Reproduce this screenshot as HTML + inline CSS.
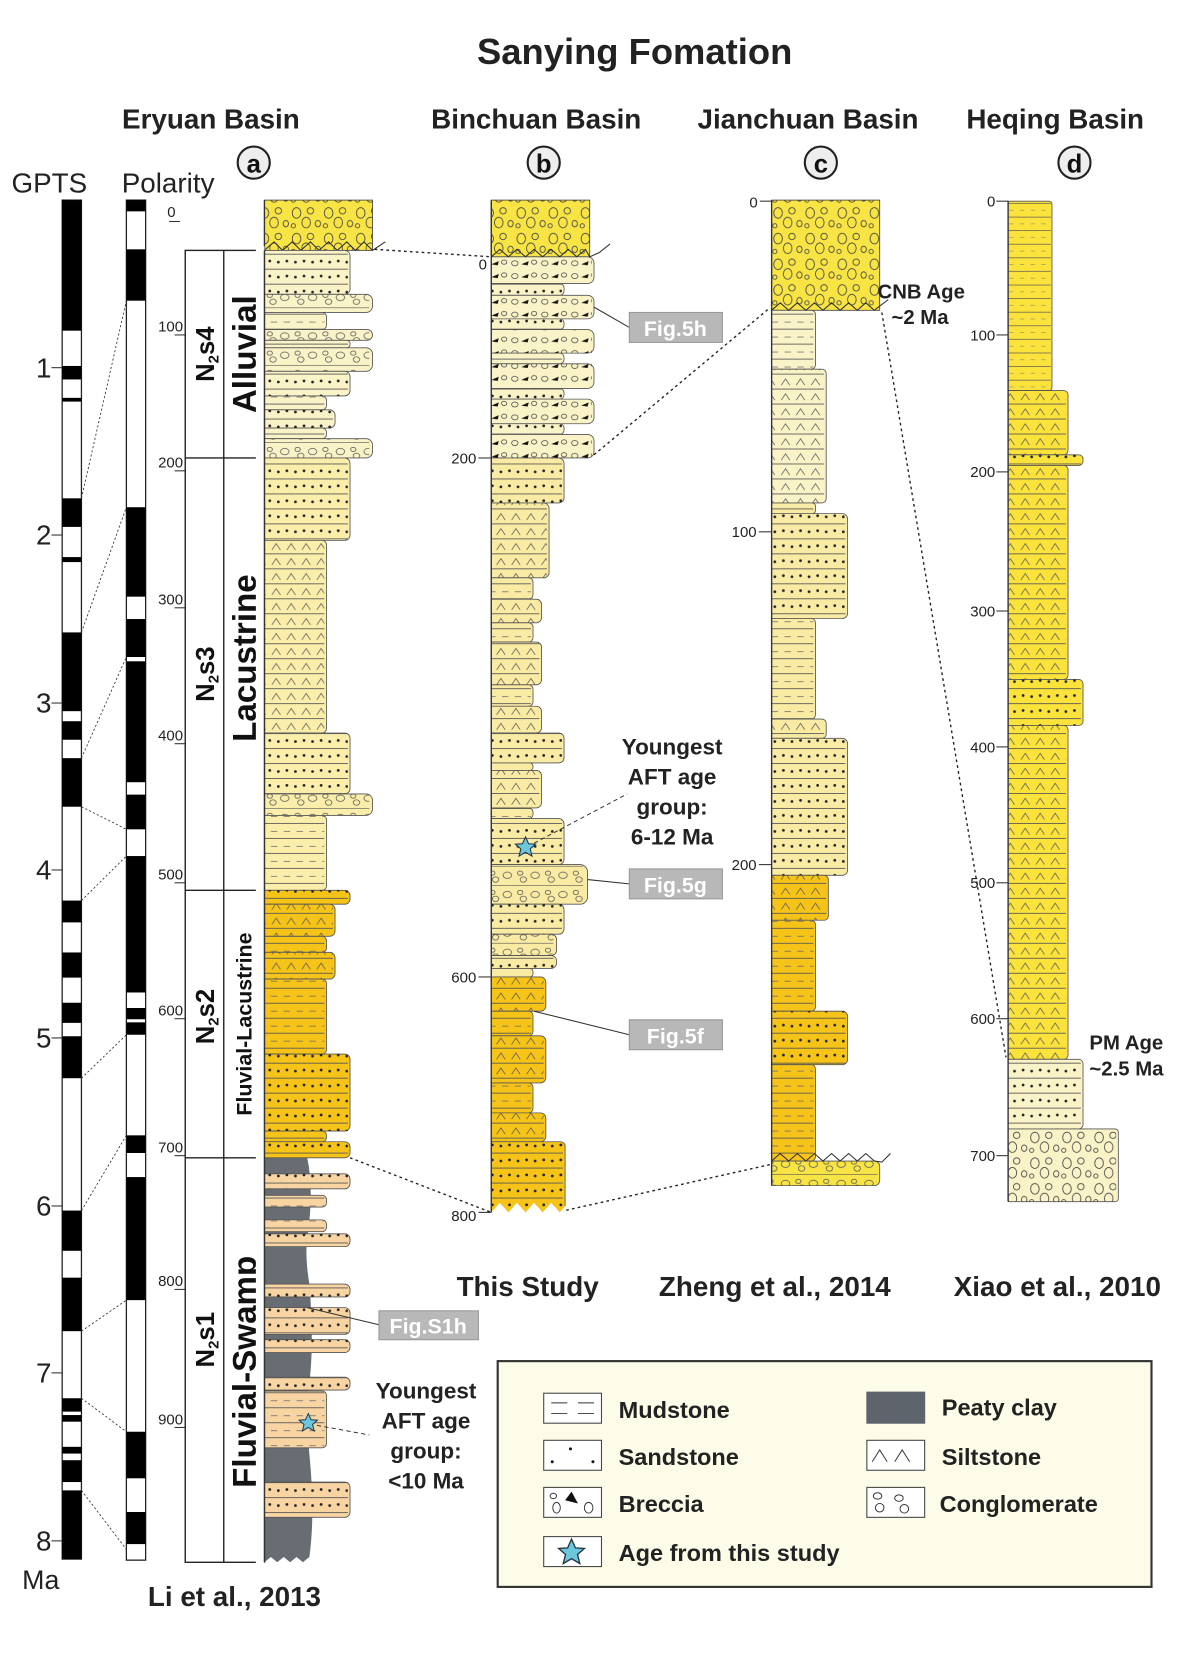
<!DOCTYPE html>
<html><head><meta charset="utf-8"><style>html,body{margin:0;padding:0;background:#fff}svg{display:block}text{font-family:"Liberation Sans",sans-serif}</style></head><body>
<svg width="1188" height="1680" viewBox="0 0 1110 1570" xmlns="http://www.w3.org/2000/svg">
<defs>
<pattern id="sa" patternUnits="userSpaceOnUse" width="16" height="14"><circle cx="4" cy="7" r="1.3" fill="#222"/><circle cx="12" cy="6" r="1.3" fill="#222"/><line x1="0" y1="13.6" x2="16" y2="13.6" stroke="#555" stroke-width=".8"/></pattern>
<pattern id="si" patternUnits="userSpaceOnUse" width="14" height="14"><path d="M2 10 L6 4 L10 10" stroke="#555" stroke-width=".7" fill="none"/><line x1="0" y1="13.6" x2="14" y2="13.6" stroke="#555" stroke-width=".8"/></pattern>
<pattern id="mu" patternUnits="userSpaceOnUse" width="12" height="14"><line x1="1" y1="7" x2="7" y2="7" stroke="#666" stroke-width=".7"/><line x1="0" y1="13.6" x2="12" y2="13.6" stroke="#555" stroke-width=".8"/></pattern>
<pattern id="co" patternUnits="userSpaceOnUse" width="26" height="18"><ellipse cx="6" cy="8" rx="4" ry="3" fill="none" stroke="#555" stroke-width=".7"/><ellipse cx="18" cy="6" rx="2.5" ry="2" fill="none" stroke="#555" stroke-width=".7"/><ellipse cx="21" cy="12" rx="3" ry="2.5" fill="none" stroke="#555" stroke-width=".7"/><line x1="0" y1="17.6" x2="26" y2="17.6" stroke="#555" stroke-width=".6"/></pattern>
<pattern id="br" patternUnits="userSpaceOnUse" width="28" height="12"><ellipse cx="5" cy="6" rx="3" ry="2.3" fill="none" stroke="#444" stroke-width=".7"/><path d="M11 7 L18 4 L17 8 Z" fill="#111"/><ellipse cx="23" cy="5" rx="2.5" ry="2" fill="none" stroke="#444" stroke-width=".7"/></pattern>
<pattern id="bc" patternUnits="userSpaceOnUse" width="30" height="24"><ellipse cx="7" cy="7" rx="4" ry="5" fill="none" stroke="#444" stroke-width=".8"/><ellipse cx="20" cy="5" rx="3" ry="3" fill="none" stroke="#444" stroke-width=".8"/><ellipse cx="16" cy="16" rx="4" ry="5" fill="none" stroke="#444" stroke-width=".8"/><ellipse cx="27" cy="17" rx="2.5" ry="3" fill="none" stroke="#444" stroke-width=".8"/><ellipse cx="4" cy="19" rx="2" ry="2" fill="none" stroke="#444" stroke-width=".8"/></pattern>
<pattern id="rl" patternUnits="userSpaceOnUse" width="10" height="12.7"><line x1="0" y1="12.4" x2="10" y2="12.4" stroke="#555" stroke-width=".7"/><line x1="3" y1="6" x2="7" y2="6" stroke="#777" stroke-width=".5"/></pattern>
<symbol id="star" viewBox="-10 -10 20 20"><path d="M0,-9 L2.6,-3.2 L8.6,-2.8 L4,1.2 L5.5,7.3 L0,4 L-5.5,7.3 L-4,1.2 L-8.6,-2.8 L-2.6,-3.2 Z" fill="#6cc6dc" stroke="#234" stroke-width=".9"/></symbol>
</defs>

<!-- Titles -->
<text x="593" y="60" font-size="34" font-weight="bold" text-anchor="middle" fill="#222">Sanying Fomation</text>
<g font-size="26" font-weight="bold" text-anchor="middle" fill="#222">
<text x="197" y="120">Eryuan Basin</text><text x="501" y="120">Binchuan Basin</text><text x="755" y="120">Jianchuan Basin</text><text x="986" y="120">Heqing Basin</text>
</g>
<g fill="#eee" stroke="#222" stroke-width="2"><circle cx="237" cy="152" r="15"/><circle cx="508" cy="152" r="15"/><circle cx="767" cy="152" r="15"/><circle cx="1004" cy="152" r="15"/></g>
<g font-size="24" font-weight="bold" text-anchor="middle" fill="#111"><text x="237" y="161">a</text><text x="508" y="161">b</text><text x="767" y="161">c</text><text x="1004" y="161">d</text></g>
<text x="46" y="180" font-size="26" text-anchor="middle" fill="#222">GPTS</text>
<text x="157" y="180" font-size="26" text-anchor="middle" fill="#222">Polarity</text>

<!-- GPTS -->
<rect x="58" y="187" width="18" height="1270" fill="#fff" stroke="#222" stroke-width="1.2"/>
<g fill="#000">
<rect x="58" y="187" width="18" height="122"/><rect x="58" y="342" width="18" height="12.6"/><rect x="58" y="371.8" width="18" height="3.5"/><rect x="58" y="465.7" width="18" height="26.7"/><rect x="58" y="520.6" width="18" height="4.7"/><rect x="58" y="591" width="18" height="73.6"/><rect x="58" y="674" width="18" height="17.3"/><rect x="58" y="708.5" width="18" height="45.4"/><rect x="58" y="841.6" width="18" height="20.4"/><rect x="58" y="890.1" width="18" height="23.5"/><rect x="58" y="937.1" width="18" height="18.8"/><rect x="58" y="968.4" width="18" height="39.2"/><rect x="58" y="1131.3" width="18" height="37.6"/><rect x="58" y="1194" width="18" height="50"/><rect x="58" y="1306.7" width="18" height="12.5"/><rect x="58" y="1322.4" width="18" height="6.2"/><rect x="58" y="1352.1" width="18" height="6.3"/><rect x="58" y="1364.6" width="18" height="20.4"/><rect x="58" y="1392.8" width="18" height="64.2"/>
</g>
<g stroke="#333" stroke-width="1"><line x1="48" y1="343.6" x2="58" y2="343.6"/><line x1="48" y1="500" x2="58" y2="500"/><line x1="48" y1="657" x2="58" y2="657"/><line x1="48" y1="813" x2="58" y2="813"/><line x1="48" y1="970" x2="58" y2="970"/><line x1="48" y1="1127" x2="58" y2="1127"/><line x1="48" y1="1283" x2="58" y2="1283"/><line x1="48" y1="1440" x2="58" y2="1440"/></g>
<g font-size="26" fill="#222" text-anchor="end"><text x="48" y="353">1</text><text x="48" y="509">2</text><text x="48" y="666">3</text><text x="48" y="822">4</text><text x="48" y="979">5</text><text x="48" y="1136">6</text><text x="48" y="1292">7</text><text x="48" y="1449">8</text></g>
<text x="38" y="1485" font-size="25" text-anchor="middle" fill="#222">Ma</text>

<!-- Polarity -->
<rect x="118" y="187" width="18" height="1271" fill="#fff" stroke="#222" stroke-width="1.2"/>
<g fill="#000">
<rect x="118" y="187" width="18" height="10.5"/><rect x="118" y="233" width="18" height="48"/><rect x="118" y="474" width="18" height="83.6"/><rect x="118" y="578.5" width="18" height="35.5"/><rect x="118" y="618" width="18" height="113"/><rect x="118" y="742.6" width="18" height="32.4"/><rect x="118" y="800" width="18" height="127.5"/><rect x="118" y="942" width="18" height="10.5"/><rect x="118" y="955.4" width="18" height="11.6"/><rect x="118" y="1061" width="18" height="16.5"/><rect x="118" y="1100" width="18" height="115"/><rect x="118" y="1338" width="18" height="43.5"/><rect x="118" y="1413" width="18" height="30"/>
</g>
<g stroke="#333" stroke-width=".8" stroke-dasharray="2,2"><line x1="76" y1="465.7" x2="118" y2="281"/><line x1="76" y1="591" x2="118" y2="474"/><line x1="76" y1="708.5" x2="118" y2="614"/><line x1="76" y1="753.9" x2="118" y2="775"/><line x1="76" y1="841.6" x2="118" y2="800"/><line x1="76" y1="1007.6" x2="118" y2="967"/><line x1="76" y1="1131.3" x2="118" y2="1061"/><line x1="76" y1="1244" x2="118" y2="1215"/><line x1="76" y1="1306.7" x2="118" y2="1338"/><line x1="76" y1="1392.8" x2="118" y2="1448"/></g>

<!-- depth ticks a -->
<g font-size="14" fill="#222" text-anchor="end"><text x="164" y="203">0</text><text x="171" y="310">100</text><text x="171" y="437">200</text><text x="171" y="565">300</text><text x="171" y="692">400</text><text x="171" y="822">500</text><text x="171" y="949">600</text><text x="171" y="1077">700</text><text x="171" y="1202">800</text><text x="171" y="1331">900</text></g>
<g stroke="#333" stroke-width="1"><line x1="158" y1="207" x2="168" y2="207"/><line x1="163" y1="313" x2="173" y2="313"/><line x1="163" y1="440" x2="173" y2="440"/><line x1="163" y1="568" x2="173" y2="568"/><line x1="163" y1="695" x2="173" y2="695"/><line x1="163" y1="825" x2="173" y2="825"/><line x1="163" y1="952" x2="173" y2="952"/><line x1="163" y1="1080" x2="173" y2="1080"/><line x1="163" y1="1205" x2="173" y2="1205"/><line x1="163" y1="1334" x2="173" y2="1334"/></g>

<!-- Stratigraphy boxes a -->
<rect x="173" y="234" width="74" height="1226" fill="#fff" stroke="#222" stroke-width="1.3"/>
<line x1="209" y1="234" x2="209" y2="1460" stroke="#222" stroke-width="1.3"/>
<g stroke="#222" stroke-width="1.3"><line x1="173" y1="428" x2="247" y2="428"/><line x1="173" y1="832" x2="247" y2="832"/><line x1="173" y1="1082" x2="247" y2="1082"/></g>
<g font-weight="bold" fill="#111" text-anchor="middle">
<text transform="translate(200,331) rotate(-90)" font-size="24">N<tspan font-size="14" dy="4">2</tspan><tspan dy="-4">s4</tspan></text>
<text transform="translate(239,331) rotate(-90)" font-size="31">Alluvial</text>
<text transform="translate(200,630) rotate(-90)" font-size="24">N<tspan font-size="14" dy="4">2</tspan><tspan dy="-4">s3</tspan></text>
<text transform="translate(239,615) rotate(-90)" font-size="31">Lacustrine</text>
<text transform="translate(200,950) rotate(-90)" font-size="24">N<tspan font-size="14" dy="4">2</tspan><tspan dy="-4">s2</tspan></text>
<text transform="translate(235,957) rotate(-90)" font-size="20">Fluvial-Lacustrine</text>
<text transform="translate(200,1252) rotate(-90)" font-size="24">N<tspan font-size="14" dy="4">2</tspan><tspan dy="-4">s1</tspan></text>
<text transform="translate(239,1282) rotate(-90)" font-size="31">Fluvial-Swamp</text>
</g>

<!-- Column a -->
<rect x="247" y="187" width="101" height="47" fill="#f8e444" stroke="#444" stroke-width=".8"/>
<rect x="247" y="187" width="101" height="47" fill="url(#bc)"/>
<polyline points="247,234 256,226 264,234 273,226 281,234 290,226 298,234 307,226 315,234 324,226 332,234 340,226 348,234 360,226" fill="none" stroke="#333" stroke-width="1"/>
<path d="M247 1082 L287 1082 Q293 1110 288 1150 Q284 1170 289 1200 Q294 1260 288 1300 Q286 1330 290 1370 Q294 1420 289 1455 L283 1460 L277 1455 L271 1460 L265 1455 L259 1460 L253 1455 L247 1460 Z" fill="#686d74"/>
<g stroke="#555" stroke-width=".8">
<rect x="240" y="234" width="87" height="41" rx="5" fill="#fbf3c8"/><rect x="240" y="275" width="108" height="17" rx="6" fill="#fbf3c8"/><rect x="240" y="292" width="65" height="16" rx="4" fill="#fbf3c8"/><rect x="240" y="308" width="108" height="10" rx="5" fill="#fbf3c8"/><rect x="240" y="318" width="87" height="7" rx="3" fill="#fbf3c8"/><rect x="240" y="325" width="108" height="22" rx="6" fill="#fbf3c8"/><rect x="240" y="347" width="87" height="23" rx="5" fill="#fbf3c8"/><rect x="240" y="370" width="65" height="13" rx="4" fill="#fbf3c8"/><rect x="240" y="383" width="73" height="17" rx="5" fill="#fbf3c8"/><rect x="240" y="400" width="65" height="10" rx="4" fill="#fbf3c8"/><rect x="240" y="410" width="108" height="18" rx="6" fill="#fbf3c8"/>
<rect x="240" y="428" width="87" height="77" rx="5" fill="#fbeeab"/><rect x="240" y="505" width="65" height="180" rx="4" fill="#fbeeab"/><rect x="240" y="685" width="87" height="57" rx="5" fill="#fbeeab"/><rect x="240" y="742" width="108" height="20" rx="6" fill="#fbeeab"/><rect x="240" y="762" width="65" height="70" rx="4" fill="#fbeeab"/>
<rect x="240" y="832" width="87" height="13" rx="5" fill="#f6c418"/><rect x="240" y="845" width="73" height="30" rx="5" fill="#f6c418"/><rect x="240" y="875" width="65" height="15" rx="4" fill="#f6c418"/><rect x="240" y="890" width="73" height="25" rx="5" fill="#f6c418"/><rect x="240" y="915" width="65" height="70" rx="4" fill="#f6c418"/><rect x="240" y="985" width="87" height="72" rx="5" fill="#f6c418"/><rect x="240" y="1057" width="65" height="10" rx="4" fill="#f6c418"/><rect x="240" y="1067" width="87" height="15" rx="5" fill="#f6c418"/>
<rect x="240" y="1097" width="87" height="14" rx="5" fill="#f7d4a2"/><rect x="240" y="1117" width="65" height="11" rx="4" fill="#f7d4a2"/><rect x="240" y="1140" width="65" height="11" rx="4" fill="#f7d4a2"/><rect x="240" y="1153" width="87" height="12" rx="5" fill="#f7d4a2"/><rect x="240" y="1200" width="87" height="12" rx="5" fill="#f7d4a2"/><rect x="240" y="1222" width="87" height="25" rx="5" fill="#f7d4a2"/><rect x="240" y="1252" width="87" height="12" rx="5" fill="#f7d4a2"/><rect x="240" y="1287" width="87" height="12" rx="5" fill="#f7d4a2"/><rect x="240" y="1300" width="65" height="53" rx="4" fill="#f7d4a2"/><rect x="240" y="1385" width="87" height="33" rx="5" fill="#f7d4a2"/>
</g>
<g>
<rect x="247" y="234" width="78" height="41" fill="url(#sa)"/><rect x="247" y="275" width="98" height="17" fill="url(#co)"/><rect x="247" y="292" width="56" height="16" fill="url(#mu)"/><rect x="247" y="308" width="98" height="10" fill="url(#co)"/><rect x="247" y="318" width="78" height="7" fill="url(#sa)"/><rect x="247" y="325" width="98" height="22" fill="url(#co)"/><rect x="247" y="347" width="78" height="23" fill="url(#sa)"/><rect x="247" y="370" width="56" height="13" fill="url(#mu)"/><rect x="247" y="383" width="64" height="17" fill="url(#sa)"/><rect x="247" y="400" width="56" height="10" fill="url(#mu)"/><rect x="247" y="410" width="98" height="18" fill="url(#co)"/>
<rect x="247" y="428" width="78" height="77" fill="url(#sa)"/><rect x="247" y="505" width="56" height="180" fill="url(#si)"/><rect x="247" y="685" width="78" height="57" fill="url(#sa)"/><rect x="247" y="742" width="98" height="20" fill="url(#co)"/><rect x="247" y="762" width="56" height="70" fill="url(#mu)"/>
<rect x="247" y="832" width="78" height="13" fill="url(#sa)"/><rect x="247" y="845" width="64" height="30" fill="url(#si)"/><rect x="247" y="875" width="56" height="15" fill="url(#mu)"/><rect x="247" y="890" width="64" height="25" fill="url(#si)"/><rect x="247" y="915" width="56" height="70" fill="url(#mu)"/><rect x="247" y="985" width="78" height="72" fill="url(#sa)"/><rect x="247" y="1057" width="56" height="10" fill="url(#mu)"/><rect x="247" y="1067" width="78" height="15" fill="url(#sa)"/>
<rect x="247" y="1097" width="78" height="14" fill="url(#sa)"/><rect x="247" y="1117" width="56" height="11" fill="url(#mu)"/><rect x="247" y="1140" width="56" height="11" fill="url(#mu)"/><rect x="247" y="1153" width="78" height="12" fill="url(#sa)"/><rect x="247" y="1200" width="78" height="12" fill="url(#sa)"/><rect x="247" y="1222" width="78" height="25" fill="url(#sa)"/><rect x="247" y="1252" width="78" height="12" fill="url(#sa)"/><rect x="247" y="1287" width="78" height="12" fill="url(#sa)"/><rect x="247" y="1300" width="56" height="53" fill="url(#mu)"/><rect x="247" y="1385" width="78" height="33" fill="url(#sa)"/>
</g>
<line x1="247" y1="187" x2="247" y2="1460" stroke="#333" stroke-width="1.3"/>
<rect x="239" y="230" width="8" height="1232" fill="#fff"/>
<line x1="247" y1="234" x2="247" y2="1460" stroke="#333" stroke-width="1.3"/>
<use href="#star" x="278" y="1320" width="20" height="20"/>
<line x1="296" y1="1332" x2="345" y2="1341" stroke="#333" stroke-width=".9" stroke-dasharray="4,3"/>
<g font-size="21" font-weight="bold" fill="#222" text-anchor="middle"><text x="398" y="1307">Youngest</text><text x="398" y="1335">AFT age</text><text x="398" y="1363">group:</text><text x="398" y="1391">&lt;10 Ma</text></g>
<line x1="287" y1="1222" x2="354" y2="1238" stroke="#333" stroke-width="1"/>
<rect x="354" y="1225" width="93" height="27" fill="#b8b8b8" stroke="#999"/>
<text x="400" y="1246" font-size="20" font-weight="bold" fill="#fff" text-anchor="middle">Fig.S1h</text>
<text x="219" y="1501" font-size="26" font-weight="bold" fill="#222" text-anchor="middle">Li et al., 2013</text>

<!-- Column b -->
<rect x="459" y="187" width="92" height="53" fill="#f8e444" stroke="#444" stroke-width=".8"/>
<rect x="459" y="187" width="92" height="53" fill="url(#bc)"/>
<g stroke="#555" stroke-width=".8">
<rect x="452" y="240" width="103" height="25" rx="6" fill="#fbf3c8"/><rect x="452" y="265" width="75" height="11" rx="4" fill="#fbf3c8"/><rect x="452" y="276" width="103" height="22" rx="6" fill="#fbf3c8"/><rect x="452" y="298" width="75" height="10" rx="4" fill="#fbf3c8"/><rect x="452" y="308" width="103" height="22" rx="6" fill="#fbf3c8"/><rect x="452" y="330" width="75" height="10" rx="4" fill="#fbf3c8"/><rect x="452" y="340" width="103" height="23" rx="6" fill="#fbf3c8"/><rect x="452" y="363" width="75" height="10" rx="4" fill="#fbf3c8"/><rect x="452" y="373" width="103" height="23" rx="6" fill="#fbf3c8"/><rect x="452" y="396" width="75" height="10" rx="4" fill="#fbf3c8"/><rect x="452" y="406" width="103" height="22" rx="6" fill="#fbf3c8"/>
<rect x="452" y="428" width="75" height="42" rx="5" fill="#faeba4"/><rect x="452" y="470" width="61" height="70" rx="5" fill="#faeba4"/><rect x="452" y="540" width="46" height="20" rx="4" fill="#faeba4"/><rect x="452" y="560" width="54" height="22" rx="5" fill="#faeba4"/><rect x="452" y="582" width="46" height="18" rx="4" fill="#faeba4"/><rect x="452" y="600" width="54" height="40" rx="5" fill="#faeba4"/><rect x="452" y="640" width="46" height="20" rx="4" fill="#faeba4"/><rect x="452" y="660" width="54" height="25" rx="5" fill="#faeba4"/><rect x="452" y="685" width="75" height="28" rx="5" fill="#faeba4"/><rect x="452" y="713" width="46" height="7" rx="3" fill="#faeba4"/><rect x="452" y="720" width="54" height="35" rx="5" fill="#faeba4"/><rect x="452" y="755" width="46" height="10" rx="4" fill="#faeba4"/><rect x="452" y="765" width="75" height="43" rx="5" fill="#faeba4"/><rect x="452" y="808" width="97" height="37" rx="7" fill="#faeba4"/><rect x="452" y="845" width="75" height="28" rx="5" fill="#faeba4"/><rect x="452" y="873" width="68" height="20" rx="5" fill="#faeba4"/><rect x="452" y="893" width="68" height="12" rx="5" fill="#faeba4"/><rect x="452" y="905" width="46" height="8" rx="3" fill="#faeba4"/>
<rect x="452" y="913" width="58" height="32" rx="5" fill="#f6c418"/><rect x="452" y="945" width="46" height="23" rx="4" fill="#f6c418"/><rect x="452" y="968" width="58" height="44" rx="5" fill="#f6c418"/><rect x="452" y="1012" width="46" height="28" rx="4" fill="#f6c418"/><rect x="452" y="1040" width="58" height="27" rx="5" fill="#f6c418"/><rect x="452" y="1067" width="76" height="66" rx="4" fill="#f6c418"/>
</g>
<g>
<rect x="459" y="240" width="94" height="25" fill="url(#br)"/><rect x="459" y="265" width="66" height="11" fill="url(#sa)"/><rect x="459" y="276" width="94" height="22" fill="url(#br)"/><rect x="459" y="298" width="66" height="10" fill="url(#sa)"/><rect x="459" y="308" width="94" height="22" fill="url(#br)"/><rect x="459" y="330" width="66" height="10" fill="url(#sa)"/><rect x="459" y="340" width="94" height="23" fill="url(#br)"/><rect x="459" y="363" width="66" height="10" fill="url(#sa)"/><rect x="459" y="373" width="94" height="23" fill="url(#br)"/><rect x="459" y="396" width="66" height="10" fill="url(#sa)"/><rect x="459" y="406" width="94" height="22" fill="url(#br)"/>
<rect x="459" y="428" width="66" height="42" fill="url(#sa)"/><rect x="459" y="470" width="52" height="70" fill="url(#si)"/><rect x="459" y="540" width="37" height="20" fill="url(#mu)"/><rect x="459" y="560" width="45" height="22" fill="url(#si)"/><rect x="459" y="582" width="37" height="18" fill="url(#mu)"/><rect x="459" y="600" width="45" height="40" fill="url(#si)"/><rect x="459" y="640" width="37" height="20" fill="url(#mu)"/><rect x="459" y="660" width="45" height="25" fill="url(#si)"/><rect x="459" y="685" width="66" height="28" fill="url(#sa)"/><rect x="459" y="720" width="45" height="35" fill="url(#si)"/><rect x="459" y="755" width="37" height="10" fill="url(#mu)"/><rect x="459" y="765" width="66" height="43" fill="url(#sa)"/><rect x="459" y="808" width="86" height="37" fill="url(#co)"/><rect x="459" y="845" width="66" height="28" fill="url(#sa)"/><rect x="459" y="873" width="58" height="20" fill="url(#co)"/><rect x="459" y="893" width="58" height="12" fill="url(#sa)"/>
<rect x="459" y="913" width="49" height="32" fill="url(#si)"/><rect x="459" y="945" width="37" height="23" fill="url(#mu)"/><rect x="459" y="968" width="49" height="44" fill="url(#si)"/><rect x="459" y="1012" width="37" height="28" fill="url(#mu)"/><rect x="459" y="1040" width="49" height="27" fill="url(#si)"/><rect x="459" y="1067" width="67" height="66" fill="url(#sa)"/>
</g>
<rect x="450" y="238" width="9" height="900" fill="#fff"/>
<polygon points="459,1126 459,1133 467,1124 475,1133 483,1124 491,1133 499,1124 507,1133 515,1124 523,1133 529,1126 529,1140 459,1140" fill="#fff"/>
<line x1="459" y1="187" x2="459" y2="1133" stroke="#333" stroke-width="1.3"/>
<polyline points="459,240 467,233 475,240 483,233 491,240 499,233 507,240 515,233 523,240 531,233 539,240 547,233 551,240 560,236 570,228" fill="none" stroke="#333" stroke-width="1"/>
<g font-size="14" fill="#222" text-anchor="end"><text x="455" y="252">0</text><text x="445" y="433">200</text><text x="445" y="918">600</text><text x="445" y="1141">800</text></g>
<g stroke="#333" stroke-width="1"><line x1="447" y1="428" x2="459" y2="428"/><line x1="447" y1="913" x2="459" y2="913"/><line x1="447" y1="1133" x2="459" y2="1133"/></g>
<use href="#star" x="480" y="781" width="22" height="22"/>
<line x1="499" y1="788" x2="586" y2="742" stroke="#333" stroke-width=".9" stroke-dasharray="4,3"/>
<g font-size="21" font-weight="bold" fill="#222" text-anchor="middle"><text x="628" y="705">Youngest</text><text x="628" y="733">AFT age</text><text x="628" y="761">group:</text><text x="628" y="789">6-12 Ma</text></g>
<g stroke="#333" stroke-width="1"><line x1="555" y1="287" x2="588" y2="306"/><line x1="549" y1="822" x2="588" y2="826"/><line x1="499" y1="945" x2="588" y2="967"/></g>
<g fill="#b8b8b8" stroke="#999"><rect x="588" y="292" width="87" height="28"/><rect x="588" y="812" width="87" height="28"/><rect x="588" y="953" width="87" height="28"/></g>
<g font-size="20" font-weight="bold" fill="#fff" text-anchor="middle"><text x="631" y="314">Fig.5h</text><text x="631" y="834">Fig.5g</text><text x="631" y="975">Fig.5f</text></g>

<!-- Column c -->
<rect x="721" y="187" width="101" height="103" fill="#f8e444" stroke="#444" stroke-width=".8"/>
<rect x="721" y="187" width="101" height="103" fill="url(#bc)"/>
<g stroke="#555" stroke-width=".8">
<rect x="714" y="290" width="48" height="55" rx="4" fill="#fbf3c8"/><rect x="714" y="345" width="58" height="125" rx="4" fill="#fbf3c8"/>
<rect x="714" y="480" width="78" height="98" rx="5" fill="#faeba4"/><rect x="714" y="578" width="48" height="94" rx="4" fill="#faeba4"/><rect x="714" y="672" width="58" height="18" rx="4" fill="#faeba4"/><rect x="714" y="690" width="78" height="128" rx="5" fill="#faeba4"/><rect x="714" y="470" width="48" height="10" rx="3" fill="#faeba4"/>
<rect x="714" y="818" width="60" height="42" rx="4" fill="#f6c418"/><rect x="714" y="860" width="48" height="85" rx="4" fill="#f6c418"/><rect x="714" y="945" width="78" height="50" rx="5" fill="#f6c418"/><rect x="714" y="995" width="48" height="90" rx="4" fill="#f6c418"/>
<rect x="714" y="1085" width="108" height="23" rx="5" fill="#f8e444"/>
</g>
<g>
<rect x="721" y="290" width="39" height="55" fill="url(#mu)"/><rect x="721" y="345" width="49" height="125" fill="url(#si)"/><rect x="721" y="470" width="39" height="10" fill="url(#mu)"/>
<rect x="721" y="480" width="69" height="98" fill="url(#sa)"/><rect x="721" y="578" width="39" height="94" fill="url(#mu)"/><rect x="721" y="672" width="49" height="18" fill="url(#si)"/><rect x="721" y="690" width="69" height="128" fill="url(#sa)"/>
<rect x="721" y="818" width="51" height="42" fill="url(#si)"/><rect x="721" y="860" width="39" height="85" fill="url(#mu)"/><rect x="721" y="945" width="69" height="50" fill="url(#sa)"/><rect x="721" y="995" width="39" height="90" fill="url(#mu)"/>
<rect x="721" y="1085" width="99" height="23" fill="url(#co)"/>
</g>
<rect x="712" y="286" width="9" height="825" fill="#fff"/>
<line x1="721" y1="187" x2="721" y2="1108" stroke="#333" stroke-width="1.3"/>
<polyline points="721,290 729,283 737,290 745,283 753,290 761,283 769,290 777,283 785,290 793,283 801,290 809,283 817,290 822,286 830,280" fill="none" stroke="#333" stroke-width="1"/>
<polyline points="721,1085 729,1078 737,1085 745,1078 753,1085 761,1078 769,1085 777,1078 785,1085 793,1078 801,1085 809,1078 817,1085 824,1086 832,1078" fill="none" stroke="#333" stroke-width="1"/>
<g font-size="14" fill="#222" text-anchor="end"><text x="708" y="194">0</text><text x="707" y="502">100</text><text x="707" y="813">200</text></g>
<g stroke="#333" stroke-width="1"><line x1="710" y1="188" x2="721" y2="188"/><line x1="709" y1="497" x2="721" y2="497"/><line x1="709" y1="808" x2="721" y2="808"/></g>
<g font-size="19" font-weight="bold" fill="#222"><text x="820" y="279">CNB Age</text><text x="833" y="303">~2 Ma</text><text x="1018" y="981">PM Age</text><text x="1018" y="1005">~2.5 Ma</text></g>

<!-- Column d -->
<g stroke="#555" stroke-width=".8">
<rect x="936" y="188" width="47" height="177" rx="3" fill="#fbe33c"/><rect x="936" y="365" width="62" height="60" rx="4" fill="#fbe33c"/><rect x="936" y="425" width="76" height="10" rx="4" fill="#fbe33c"/><rect x="936" y="435" width="62" height="200" rx="4" fill="#fbe33c"/><rect x="936" y="635" width="76" height="43" rx="4" fill="#fbe33c"/><rect x="936" y="678" width="62" height="312" rx="4" fill="#fbe33c"/>
<rect x="936" y="990" width="76" height="65" rx="4" fill="#fbf3c8"/><rect x="936" y="1055" width="109" height="68" rx="3" fill="#fbf3c8"/>
</g>
<g>
<rect x="942" y="188" width="40" height="177" fill="url(#rl)"/><rect x="942" y="365" width="54" height="60" fill="url(#si)"/><rect x="942" y="425" width="68" height="10" fill="url(#sa)"/><rect x="942" y="435" width="54" height="200" fill="url(#si)"/><rect x="942" y="635" width="68" height="43" fill="url(#sa)"/><rect x="942" y="678" width="54" height="312" fill="url(#si)"/>
<rect x="942" y="990" width="68" height="65" fill="url(#sa)"/><rect x="942" y="1055" width="101" height="68" fill="url(#bc)"/>
</g>
<rect x="933" y="186" width="9" height="940" fill="#fff"/>
<line x1="942" y1="188" x2="942" y2="1123" stroke="#333" stroke-width="1.3"/>
<g font-size="14" fill="#222" text-anchor="end"><text x="930" y="193">0</text><text x="930" y="318">100</text><text x="930" y="446">200</text><text x="930" y="576">300</text><text x="930" y="703">400</text><text x="930" y="830">500</text><text x="930" y="957">600</text><text x="930" y="1085">700</text></g>
<g stroke="#333" stroke-width="1"><line x1="931" y1="188" x2="942" y2="188"/><line x1="931" y1="313" x2="942" y2="313"/><line x1="931" y1="441" x2="942" y2="441"/><line x1="931" y1="571" x2="942" y2="571"/><line x1="931" y1="698" x2="942" y2="698"/><line x1="931" y1="825" x2="942" y2="825"/><line x1="931" y1="952" x2="942" y2="952"/><line x1="931" y1="1080" x2="942" y2="1080"/></g>

<!-- correlation lines -->
<g stroke="#222" stroke-width="1.3" stroke-dasharray="2.5,3" fill="none">
<line x1="350" y1="233" x2="459" y2="240"/><line x1="555" y1="425" x2="719" y2="288"/><line x1="824" y1="292" x2="940" y2="988"/><line x1="327" y1="1082" x2="459" y2="1133"/><line x1="529" y1="1131" x2="721" y2="1088"/>
</g>

<!-- captions -->
<g font-size="26" font-weight="bold" fill="#222" text-anchor="middle"><text x="493" y="1211">This Study</text><text x="724" y="1211">Zheng et al., 2014</text><text x="988" y="1211">Xiao et al., 2010</text></g>

<!-- legend -->
<rect x="465" y="1272" width="611" height="211" fill="#fcfce9" stroke="#333" stroke-width="2"/>
<g stroke="#444" stroke-width="1">
<rect x="508" y="1302" width="54" height="28" fill="#fff"/><rect x="508" y="1346" width="54" height="28" fill="#fff"/><rect x="508" y="1390" width="54" height="28" fill="#fff"/><rect x="508" y="1436" width="54" height="28" fill="#fff"/>
<rect x="810" y="1301" width="54" height="29" fill="#5e646c" stroke="#5e646c"/><rect x="810" y="1346" width="54" height="28" fill="#fff"/><rect x="810" y="1390" width="54" height="28" fill="#fff"/>
</g>
<g stroke="#333" stroke-width=".9" fill="none">
<line x1="515" y1="1311" x2="530" y2="1311"/><line x1="540" y1="1311" x2="555" y2="1311"/><line x1="515" y1="1321" x2="530" y2="1321"/><line x1="540" y1="1321" x2="555" y2="1321"/>
<path d="M815 1366 L822 1355 L829 1366 M836 1366 L843 1355 L850 1366"/>
<ellipse cx="820" cy="1398" rx="4" ry="3"/><ellipse cx="822" cy="1409" rx="4" ry="4"/><ellipse cx="840" cy="1400" rx="4" ry="3"/><ellipse cx="845" cy="1410" rx="4" ry="4"/>
<ellipse cx="517" cy="1398" rx="3" ry="2.5"/><ellipse cx="520" cy="1409" rx="3.5" ry="5"/><ellipse cx="550" cy="1409" rx="4" ry="5"/>
</g>
<path d="M528 1402 L534 1394 L540 1405 Z" fill="#111"/>
<g fill="#111"><circle cx="516" cy="1366" r="1.4"/><circle cx="533" cy="1354" r="1.4"/><circle cx="554" cy="1366" r="1.4"/></g>
<use href="#star" x="520" y="1437" width="28" height="28"/>
<g font-size="22" font-weight="bold" fill="#222"><text x="578" y="1325">Mudstone</text><text x="578" y="1369">Sandstone</text><text x="578" y="1413">Breccia</text><text x="578" y="1459">Age from this study</text><text x="880" y="1323">Peaty clay</text><text x="880" y="1369">Siltstone</text><text x="878" y="1413">Conglomerate</text></g>
</svg>
</body></html>
